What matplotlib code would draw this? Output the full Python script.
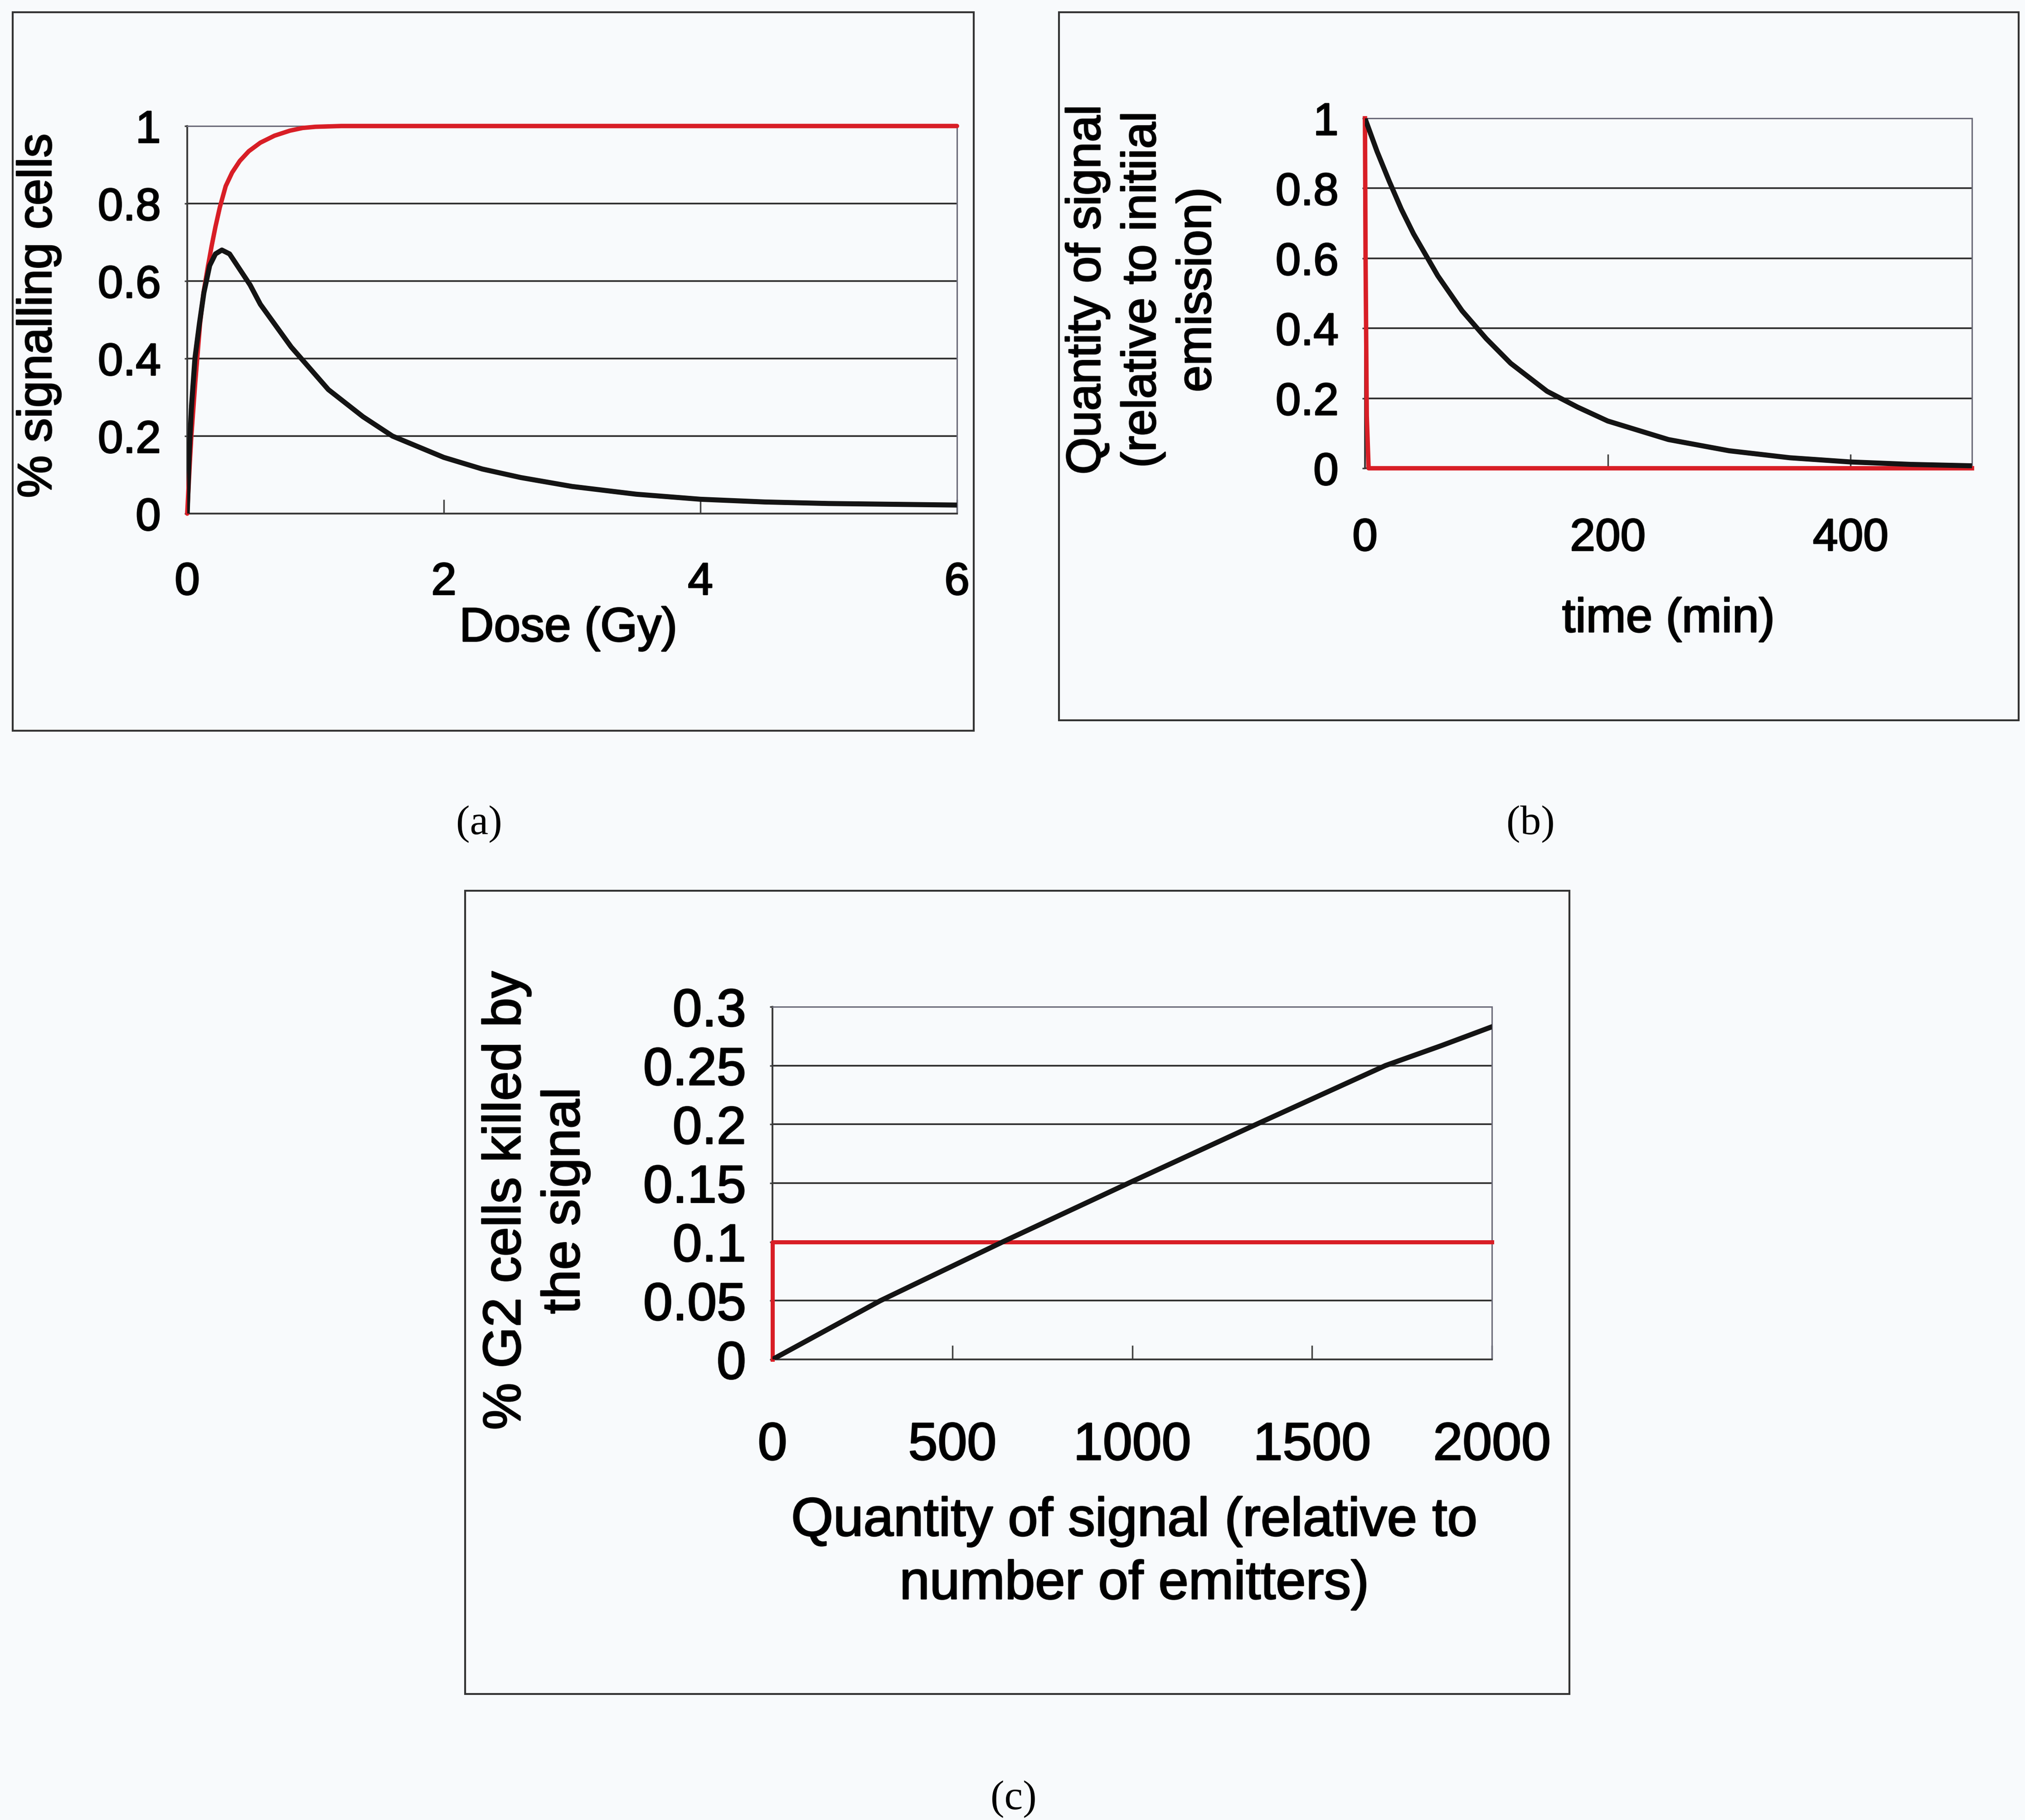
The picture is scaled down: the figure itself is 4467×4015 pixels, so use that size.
import matplotlib
matplotlib.use("Agg")
import matplotlib.pyplot as plt
from matplotlib.patches import Rectangle
import matplotlib.patheffects as pe

plt.rcParams['font.family'] = ['Liberation Sans', 'DejaVu Sans']

# ---------------- data ----------------
# Panel (a): % signalling cells vs dose
dose_red = [0, 0.02, 0.032, 0.063, 0.10, 0.127, 0.16, 0.19, 0.22, 0.254, 0.30, 0.35, 0.41, 0.48, 0.57, 0.68, 0.80, 0.90, 1.0, 1.2, 2.0, 4.0, 6.0]
sig_red = [0, 0.13, 0.20, 0.34, 0.49, 0.57, 0.635, 0.69, 0.74, 0.79, 0.845, 0.88, 0.91, 0.935, 0.957, 0.975, 0.988, 0.995, 0.998, 1.0, 1.0, 1.0, 1.0]
dose_blk = [0, 0.015, 0.032, 0.06, 0.095, 0.13, 0.175, 0.22, 0.27, 0.33, 0.41, 0.49, 0.57, 0.81, 1.1, 1.37, 1.6, 2.0, 2.3, 2.6, 3.0, 3.5, 4.0, 4.5, 5.0, 6.0]
sig_blk = [0, 0.15, 0.27, 0.40, 0.49, 0.57, 0.64, 0.67, 0.68, 0.67, 0.63, 0.59, 0.54, 0.43, 0.32, 0.25, 0.20, 0.145, 0.115, 0.093, 0.07, 0.05, 0.037, 0.03, 0.026, 0.022]
a_xticks = [0, 2, 4, 6]
a_yticks = [0, 0.2, 0.4, 0.6, 0.8, 1]
a_ytlabels = ['0', '0.2', '0.4', '0.6', '0.8', '1']

# Panel (b): quantity of signal vs time
t_blk = [0, 10, 20, 30, 40, 50, 60, 80, 100, 120, 150, 175, 200, 250, 300, 350, 400, 450, 500]
q_blk = [1, 0.905, 0.82, 0.74, 0.67, 0.61, 0.55, 0.45, 0.37, 0.30, 0.22, 0.175, 0.135, 0.082, 0.05, 0.03, 0.018, 0.011, 0.007]
t_red = [0, 0.5, 1.5, 3, 500]
q_red = [1, 0.6, 0.15, 0.0, 0.0]
b_xticks = [0, 200, 400]
b_yticks = [0, 0.2, 0.4, 0.6, 0.8, 1]
b_ytlabels = ['0', '0.2', '0.4', '0.6', '0.8', '1']

# Panel (c): % G2 cells killed vs quantity of signal
s_blk = [0, 300, 640, 990, 1345, 1704, 1860, 2000]
k_blk = [0, 0.05, 0.10, 0.15, 0.20, 0.25, 0.267, 0.283]
s_red = [0, 0, 2000]
k_red = [0, 0.1, 0.1]
c_xticks = [0, 500, 1000, 1500, 2000]
c_yticks = [0, 0.05, 0.1, 0.15, 0.2, 0.25, 0.3]
c_ytlabels = ['0', '0.05', '0.1', '0.15', '0.2', '0.25', '0.3']

RED = '#d81e26'
BLK = '#141414'
GRID = '#2a2a2a'
BOX = '#6a6a78'

W, H = 4467, 4016
DPI = 100
fig = plt.figure(figsize=(W / DPI, H / DPI), dpi=DPI)
fig.patch.set_facecolor('#f8fafc')

TXT_FX = [pe.withStroke(linewidth=2.2, foreground='#111111')]


def px_axes(x0, y0, x1, y1):
    return fig.add_axes([x0 / W, 1 - y1 / H, (x1 - x0) / W, (y1 - y0) / H])


def frame(x0, y0, x1, y1):
    fig.patches.append(Rectangle((x0 / W, 1 - y1 / H), (x1 - x0) / W, (y1 - y0) / H,
                                 transform=fig.transFigure, fill=False,
                                 edgecolor='#333333', linewidth=3))


def style(ax, fs, xpad, ypad):
    ax.set_facecolor('none')
    for s in ['top', 'right']:
        ax.spines[s].set_color(BOX)
        ax.spines[s].set_linewidth(2.2)
    for s in ['left', 'bottom']:
        ax.spines[s].set_color('#3a3a3a')
        ax.spines[s].set_linewidth(2.8)
    ax.yaxis.grid(True, color=GRID, linewidth=2.6)
    ax.set_axisbelow(True)
    ax.tick_params(axis='x', direction='in', length=22, width=2.5, color='#444444',
                   labelsize=fs, pad=xpad)
    ax.tick_params(axis='y', direction='out', length=4, width=2.5, color='#444444',
                   labelsize=fs, pad=ypad)
    for lab in ax.get_xticklabels() + ax.get_yticklabels():
        lab.set_path_effects(TXT_FX)


# ---------------- panel (a) ----------------
frame(28, 28, 2148, 1613)
axa = px_axes(413, 279, 2111, 1134)
axa.set_xlim(0, 6)
axa.set_ylim(0, 1)
axa.set_xticks(a_xticks)
axa.set_yticks(a_yticks)
axa.set_yticklabels(a_ytlabels)
style(axa, 72, 76, 38)
axa.plot(dose_red, sig_red, color=RED, linewidth=7, solid_capstyle='round', zorder=3, clip_on=False)
axa.plot(dose_blk, sig_blk, color=BLK, linewidth=8, solid_capstyle='round', zorder=4)
axa.set_xlabel('Dose (Gy)', fontsize=76, va='center', path_effects=TXT_FX)
axa.xaxis.set_label_coords(0.495, -0.297)
axa.set_ylabel('% signalling cells', fontsize=76, va='center', path_effects=TXT_FX)
axa.yaxis.set_label_coords(-0.193, 0.51)

# ---------------- panel (b) ----------------
frame(2336, 28, 4453, 1590)
axb = px_axes(3011, 262, 4350, 1034)
axb.set_xlim(0, 500)
axb.set_ylim(0, 1)
axb.set_xticks(b_xticks)
axb.set_yticks(b_yticks)
axb.set_yticklabels(b_ytlabels)
style(axb, 72, 78, 38)
axb.plot(t_blk, q_blk, color=BLK, linewidth=8, zorder=4)
axb.plot(t_red, q_red, color=RED, linewidth=7, zorder=3, clip_on=False)
axb.set_xlabel('time (min)', fontsize=76, va='center', path_effects=TXT_FX)
axb.xaxis.set_label_coords(0.50, -0.432)
axb.set_ylabel('Quantity of signal\n(relative to initiial\nemission)', fontsize=76,
               va='center', linespacing=1.3, path_effects=TXT_FX)
axb.yaxis.set_label_coords(-0.366, 0.51)

# ---------------- panel (c) ----------------
frame(1026, 1966, 3462, 3738)
axc = px_axes(1704, 2222, 3291, 3000)
axc.set_xlim(0, 2000)
axc.set_ylim(0, 0.3)
axc.set_xticks(c_xticks)
axc.set_yticks(c_yticks)
axc.set_yticklabels(c_ytlabels)
style(axc, 84, 98, 38)
axc.plot(s_blk, k_blk, color=BLK, linewidth=8, zorder=4)
axc.plot(s_red, k_red, color=RED, linewidth=6.5, zorder=3, clip_on=False)
axc.set_xlabel('Quantity of signal (relative to\nnumber of emitters)', fontsize=86,
               va='center', linespacing=1.33, path_effects=TXT_FX)
axc.xaxis.set_label_coords(0.503, -0.55)
axc.set_ylabel('% G2 cells killed by\nthe signal', fontsize=84, va='center',
               linespacing=1.25, path_effects=TXT_FX)
axc.yaxis.set_label_coords(-0.329, 0.45)

# ---------------- captions ----------------
cap = dict(fontsize=66, family=['Liberation Serif', 'DejaVu Serif'], ha='center', va='center')
fig.text(1057 / W, 1 - 1818 / H, '(a)', **cap)
fig.text(3376 / W, 1 - 1818 / H, '(b)', **cap)
fig.text(2236 / W, 1 - 3969 / H, '(c)', **cap)

fig.savefig('out.png', dpi=DPI, facecolor=fig.get_facecolor())
